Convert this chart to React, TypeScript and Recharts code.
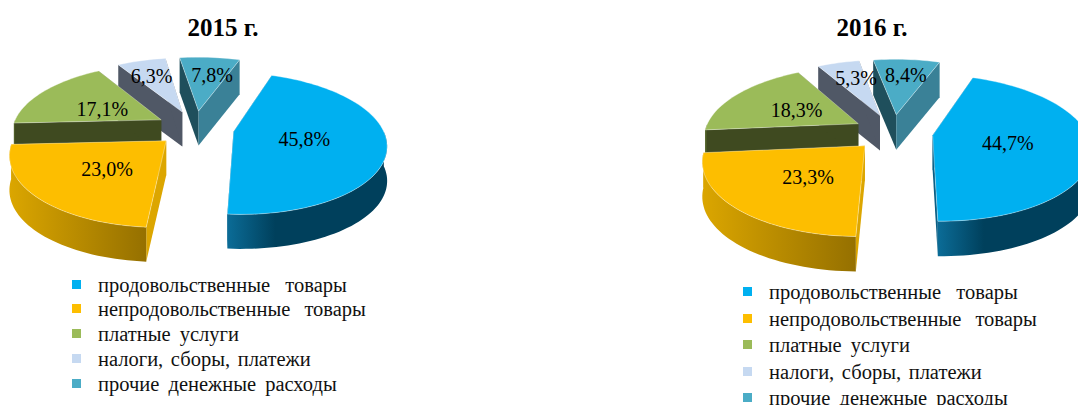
import React from "react";
import { PieChart, Pie, Legend } from "recharts";

// Shares of household spending by category, per cent
const CATEGORIES = [
  "продовольственные товары",
  "непродовольственные товары",
  "платные услуги",
  "налоги, сборы, платежи",
  "прочие денежные расходы",
];
const SHARES_2015 = [45.8, 23.0, 17.1, 6.3, 7.8];
const SHARES_2016 = [44.7, 23.3, 18.3, 5.3, 8.4];
const TITLE_2015 = "2015 г.";
const TITLE_2016 = "2016 г.";

const TOP_COLORS = ["#00B0F0", "#FDBE00", "#9BBB59", "#C6D9F1", "#4BACC6"];
const START_WALL = ["#0A5F85", "#DCA600", "#3F4A20", "#505866", "#1F4F5C"];
const END_WALL = ["#0A5F85", "#DCA600", "#3F4A20", "#505866", "#3A8197"];
const OUTER_LEFT = ["#0B6C97", "#DBA600", "#5B6E2F", "#505866", "#2F7388"];
const OUTER_RIGHT = ["#00405C", "#957000", "#3F4A20", "#505866", "#3F8BA3"];
const LEGEND_WORD_GAP = [10, 9, 4, 2.5, 4];

// Paint slices from the back of the scene to the front
const PAINT_ORDER = [4, 3, 2, 0, 1];

// Camera used to lay the round pie down on a receding plane
const TILT = 0.455;
const PERSPECTIVE = 0.0011;

const FONT = "'Liberation Serif', 'Times New Roman', serif";

type Panel = {
  left: number;
  title: string;
  titleX: number;
  shares: number[];
  cx: number;
  cy: number;
  radius: number;
  explode: number;
  depth: number;
  firstAngle: number;
  labelRadius: number[];
  labelShift: number[][];
  legendTop: number;
  legendLeft: number;
  legendStep: number;
};

const PANELS: Panel[] = [
  {
    left: 0,
    title: TITLE_2015,
    titleX: 223,
    shares: SHARES_2015,
    cx: 195,
    cy: 128,
    radius: 149,
    explode: 39,
    depth: 34.5,
    firstAngle: 19.5,
    labelRadius: [0.47, 0.49, 0.44, 0.67, 0.64],
    labelShift: [[0, 0], [0, 2], [-5, 2], [-2, 0], [6, 0]],
    legendTop: 272.5,
    legendLeft: 72,
    legendStep: 24.75,
  },
  {
    left: 539,
    title: TITLE_2016,
    titleX: 333,
    shares: SHARES_2016,
    cx: 354,
    cy: 132,
    radius: 154,
    explode: 40,
    depth: 35,
    firstAngle: 20,
    labelRadius: [0.475, 0.5, 0.44, 0.69, 0.69],
    labelShift: [[1, 1], [3, 2], [-6, 0], [6, 0], [2, 0]],
    legendTop: 280,
    legendLeft: 204,
    legendStep: 26.5,
  },
];

const rad = (d: number) => (d * Math.PI) / 180;

// Project a point given in the pie's plane (x to the right, v towards the viewer)
function project(cx: number, cy: number, x: number, v: number) {
  const p = 1 / (1 - PERSPECTIVE * v);
  return { x: cx + x * p, y: cy + v * TILT * p };
}

// Plane position of a slice point: exploded along the slice's middle, then out to r
function planePoint(theta: number, r: number, mid: number, explode: number) {
  return {
    x: explode * Math.sin(rad(mid)) + r * Math.sin(rad(theta)),
    v: -explode * Math.cos(rad(mid)) - r * Math.cos(rad(theta)),
  };
}

function pathOf(points: { x: number; y: number }[]) {
  return (
    points.map((q, i) => `${i ? "L" : "M"}${q.x.toFixed(2)} ${q.y.toFixed(2)}`).join(" ") + " Z"
  );
}

function Slice(props: any, panel: Panel) {
  const { cx, cy, outerRadius, startAngle, endAngle, payload } = props;
  const index: number = payload.order;
  const { explode, depth } = panel;
  const t0 = 90 - startAngle;
  const t1 = 90 - endAngle;
  const mid = (t0 + t1) / 2;

  const at = (theta: number, r: number, drop = 0) => {
    const w = planePoint(theta, r, mid, explode);
    const s = project(cx, cy, w.x, w.v);
    return { x: s.x, y: s.y + drop };
  };
  const sweep = (from: number, to: number, drop = 0) => {
    const out = [];
    const n = Math.max(2, Math.ceil(Math.abs(to - from) / 2));
    for (let i = 0; i <= n; i++) out.push(at(from + ((to - from) * i) / n, outerRadius, drop));
    return out;
  };

  const top = pathOf([at(t0, 0), ...sweep(t0, t1)]);
  const wall = (theta: number) =>
    pathOf([at(theta, 0), at(theta, outerRadius), at(theta, outerRadius, depth), at(theta, 0, depth)]);

  const from = Math.max(t0, 90);
  const to = Math.min(t1, 270);
  const outer =
    to > from ? pathOf([...sweep(from, to), ...sweep(from, to, depth).reverse()]) : null;

  const gradientId = `outer-wall-${panel.left}-${index}`;
  return (
    <g>
      <defs>
        <linearGradient id={gradientId} x1="0" y1="0" x2="1" y2="0">
          <stop offset="0" stopColor={OUTER_LEFT[index]} />
          <stop offset={index === 0 ? "0.3" : "1"} stopColor={OUTER_RIGHT[index]} />
          <stop offset="1" stopColor={OUTER_RIGHT[index]} />
        </linearGradient>
      </defs>
      <path d={wall(t0)} fill={START_WALL[index]} />
      <path d={wall(t1)} fill={END_WALL[index]} />
      {outer && <path d={outer} fill={`url(#${gradientId})`} />}
      <path d={top} fill={TOP_COLORS[index]} stroke="rgba(255,255,255,0.45)" strokeWidth={0.8} />
    </g>
  );
}

function PercentLabel(props: any, panel: Panel) {
  const { cx, cy, outerRadius, midAngle, payload } = props;
  const index: number = payload.order;
  const theta = 90 - midAngle;
  const w = planePoint(theta, outerRadius * panel.labelRadius[index], theta, panel.explode);
  const s = project(cx, cy, w.x, w.v);
  const [dx, dy] = panel.labelShift[index];
  return (
    <text
      x={s.x + dx}
      y={s.y + dy}
      textAnchor="middle"
      dominantBaseline="central"
      fontFamily={FONT}
      fontSize={20}
      fill="#000"
    >
      {`${payload.value.toFixed(1).replace(".", ",")}%`}
    </text>
  );
}

function LegendList({ payload, panel }: any) {
  // Only the label-carrying series contributes legend rows
  const rows = (payload || []).filter((entry: any) => entry.type !== "none");
  return (
    <div style={{ position: "relative", fontFamily: FONT, fontSize: 20.5, color: "#111" }}>
      {rows.map((entry: any, i: number) => (
        <div
          key={`${i}-${entry.value}`}
          style={{
            position: "absolute",
            left: 0,
            top: i * panel.legendStep,
            height: 24,
            lineHeight: "24px",
            whiteSpace: "nowrap",
            wordSpacing: LEGEND_WORD_GAP[i],
          }}
        >
          <span
            style={{
              position: "absolute",
              left: 0,
              top: 7,
              width: 9,
              height: 9,
              background: entry.color,
            }}
          />
          <span style={{ position: "absolute", left: 26, top: 0 }}>{entry.value}</span>
        </div>
      ))}
    </div>
  );
}

function PiePanel({ panel }: { panel: Panel }) {
  const rows = CATEGORIES.map((name, i) => ({
    name,
    value: panel.shares[i],
    fill: TOP_COLORS[i],
    order: i,
  }));
  const common = {
    data: rows,
    dataKey: "value",
    nameKey: "name",
    cx: panel.cx,
    cy: panel.cy,
    innerRadius: 0,
    outerRadius: panel.radius,
    startAngle: 90 - panel.firstAngle,
    endAngle: 90 - panel.firstAngle - 360,
    isAnimationActive: false,
    stroke: "none",
    labelLine: false,
  };
  return (
    <div style={{ position: "absolute", left: panel.left, top: 0 }}>
      <PieChart width={539} height={405} margin={{ top: 0, right: 0, bottom: 0, left: 0 }}>
        <text
          x={panel.titleX}
          y={27}
          textAnchor="middle"
          dominantBaseline="central"
          fontFamily={FONT}
          fontWeight="bold"
          fontSize={25}
          fill="#000"
        >
          {panel.title}
        </text>
        {PAINT_ORDER.map((slice) => (
          <Pie
            key={slice}
            {...common}
            legendType="none"
            shape={(p: any) => (p.payload.order === slice ? Slice(p, panel) : <g />)}
          />
        ))}
        <Pie
          key="labels"
          {...common}
          legendType="square"
          shape={() => <g />}
          label={(p: any) => PercentLabel(p, panel)}
        />
        <Legend
          itemSorter={null}
          content={(p: any) => <LegendList payload={p.payload} panel={panel} />}
          wrapperStyle={{
            position: "absolute",
            left: panel.legendLeft,
            top: panel.legendTop,
            width: 330,
            height: 0,
            bottom: "auto",
          }}
        />
      </PieChart>
    </div>
  );
}

export default function App() {
  return (
    <div style={{ position: "absolute", left: 0, top: 0, width: 1078, height: 405, overflow: "hidden", background: "#fff" }}>
      {PANELS.map((panel) => (
        <PiePanel key={panel.left} panel={panel} />
      ))}
    </div>
  );
}
